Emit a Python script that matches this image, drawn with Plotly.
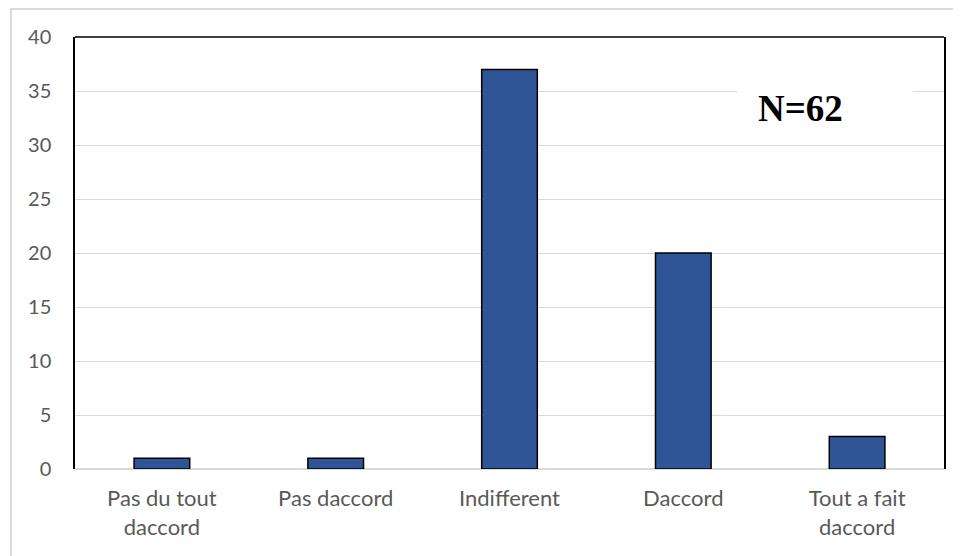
import plotly.graph_objects as go

categories = ["Pas du tout<br>daccord", "Pas daccord", "Indifferent", "Daccord", "Tout a fait<br>daccord"]
values = [1, 1, 37, 20, 3]
y_ticks = [0, 5, 10, 15, 20, 25, 30, 35, 40]
note_text = "N=62"

# page body has an 8px margin; figure coordinates are page coordinates minus OFF
OFF = 8
W, H = 961 - OFF, 556 - OFF
plot_left, plot_right, plot_top, plot_bottom = 75 - OFF, 944 - OFF, 37 - OFF, 469 - OFF
ml, mr, mt, mb = plot_left, W - plot_right, plot_top, H - plot_bottom
pw, ph = W - ml - mr, H - mt - mb

def px(x):
    return (x - OFF - ml) / pw

def py(y):
    return (H - mb - (y - OFF)) / ph

fig = go.Figure()
fig.add_trace(go.Bar(
    x=categories, y=values,
    marker=dict(color="#2F5597", line=dict(color="#000000", width=1.5)),
    width=0.32,
))

fig.update_layout(
    width=W, height=H,
    margin=dict(l=ml, r=mr, t=mt, b=mb),
    paper_bgcolor="white", plot_bgcolor="white",
    showlegend=False,
    font=dict(family="Lato", size=20, color="#595959"),
    xaxis=dict(showline=False, showgrid=False, zeroline=False, ticks="",
               ticklabelstandoff=14,
               tickfont=dict(family="Lato", size=22, color="#595959")),
    yaxis=dict(range=[0, 40], tickvals=y_ticks, showgrid=True, gridcolor="#d9d9d9", gridwidth=1,
               zeroline=True, zerolinecolor="#d9d9d9", zerolinewidth=2,
               showline=True, linecolor="#000000", linewidth=1.5, mirror=True,
               ticks="", ticklabelstandoff=18,
               tickfont=dict(family="Lato", size=20, color="#595959")),
    shapes=[
        # top border of plot area
        dict(type="line", xref="paper", yref="paper", x0=0, x1=1, y0=1, y1=1,
             line=dict(color="#000000", width=1.5), layer="above"),
        # outer chart border
        dict(type="rect", xref="paper", yref="paper",
             x0=px(11), x1=px(975), y0=py(575), y1=py(9),
             line=dict(color="#d9d9d9", width=2), layer="above"),
        # white box behind note
        dict(type="rect", xref="paper", yref="paper",
             x0=px(737), x1=px(913), y0=py(140), y1=py(80),
             fillcolor="white", line=dict(width=0), layer="above"),
    ],
    annotations=[
        dict(text="<b>" + note_text + "</b>", xref="paper", yref="paper",
             x=px(756), y=py(109), xanchor="left", yanchor="middle", showarrow=False,
             font=dict(family="Liberation Serif", size=37, color="#000000")),
    ],
)

fig.write_html("out.html")
